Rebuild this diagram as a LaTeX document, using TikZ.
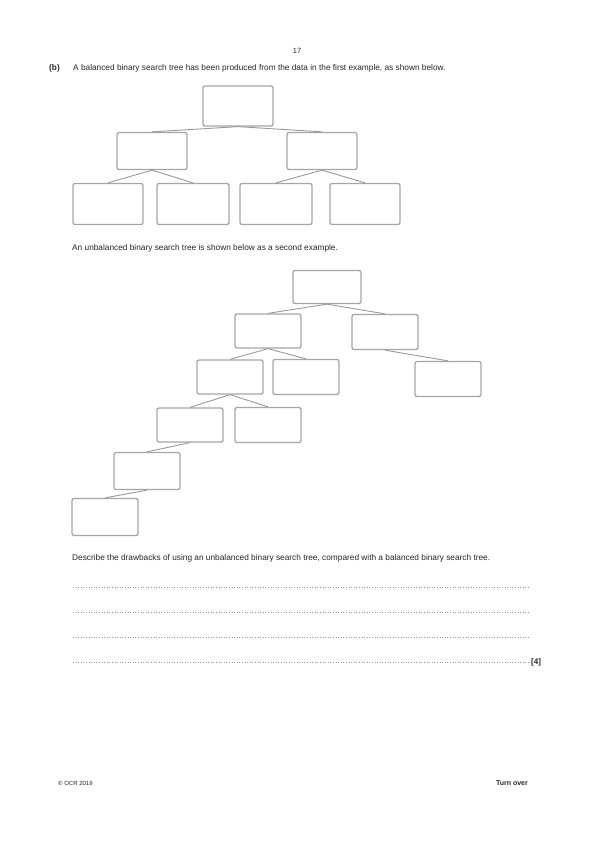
\documentclass[tikz,border=0pt]{standalone}
\usepackage{fontspec}
\setmainfont{Liberation Sans}
\begin{document}
\begin{tikzpicture}[x=1pt,y=-1pt,
  tbox/.style={draw=black!35, line width=1.3pt, rounded corners=2pt, fill=white, inner sep=0pt},
  big/.style={tbox, minimum width=70pt, minimum height=40pt},
  small/.style={tbox, minimum width=66pt, minimum height=34pt},
  link/.style={draw=black!40, line width=0.9pt},
  qtext/.style={anchor=west, inner sep=0pt, font=\fontsize{8.3}{9}\selectfont, text=black!85},
  ansline/.style={draw=black!40, line width=0.6pt, dotted}]
\useasboundingbox (0,0) rectangle (595,842);
% header
\node[qtext, anchor=center, font=\fontsize{7.5}{9}\selectfont] (pg) at (297,51) {17};
\node[qtext, font=\fontsize{8.3}{9}\selectfont\bfseries] (qb) at (49,68) {(b)};
\node[qtext] (t1) at (73,68) {A balanced binary search tree has been produced from the data in the first example, as shown below.};
% tree 1
\node[big] (r) at (238,106) {};
\node[big, minimum height=37pt] (l) at (152,151) {};
\node[big, minimum height=37pt] (rr) at (322,151) {};
\node[big, minimum height=41pt] (l1) at (108,204) {};
\node[big, minimum width=72pt, minimum height=41pt] (l2) at (193,204) {};
\node[big, minimum width=72pt, minimum height=41pt] (l3) at (276,204) {};
\node[big, minimum height=41pt] (l4) at (365,204) {};
\draw[link] (r.south) -- (l.north);
\draw[link] (r.south) -- (rr.north);
\draw[link] (l.south) -- (l1.north);
\draw[link] (l.south) -- (l2.north);
\draw[link] (rr.south) -- (l3.north);
\draw[link] (rr.south) -- (l4.north);
% text 2
\node[qtext] (t2) at (72,248) {An unbalanced binary search tree is shown below as a second example.};
% tree 2
\node[small, minimum width=68pt, minimum height=33pt] (a0) at (327,287) {};
\node[small] (a) at (268,331) {};
\node[small, minimum height=35pt] (b) at (385,332) {};
\node[small] (c) at (230,377) {};
\node[small, minimum height=35pt] (d) at (306,377) {};
\node[small, minimum height=35pt] (e) at (448,379) {};
\node[small] (f) at (190,425) {};
\node[small, minimum height=35pt] (g) at (268,425) {};
\node[small, minimum height=37pt] (h) at (147,471) {};
\node[small, minimum height=37pt] (i) at (105,517) {};
\draw[link] (a0.south) -- (a.north);
\draw[link] (a0.south) -- (b.north);
\draw[link] (a.south) -- (c.north);
\draw[link] (a.south) -- (d.north);
\draw[link] (b.south) -- (e.north);
\draw[link] (c.south) -- (f.north);
\draw[link] (c.south) -- (g.north);
\draw[link] (f.south) -- (h.north);
\draw[link] (h.south) -- (i.north);
% text 3
\node[qtext] (t3) at (72,558) {Describe the drawbacks of using an unbalanced binary search tree, compared with a balanced binary search tree.};
% answer lines
\coordinate (p1) at (73,587); \coordinate (q1) at (530,587);
\coordinate (p2) at (73,612); \coordinate (q2) at (530,612);
\coordinate (p3) at (73,637); \coordinate (q3) at (530,637);
\coordinate (p4) at (73,662); \coordinate (q4) at (530,662);
\draw[ansline] (p1) -- (q1);
\draw[ansline] (p2) -- (q2);
\draw[ansline] (p3) -- (q3);
\draw[ansline] (p4) -- (q4);
\node[qtext, font=\fontsize{8}{9}\selectfont\bfseries] (mk) at (531,662) {[4]};
% footer
\node[qtext, font=\fontsize{6}{7}\selectfont] (cp) at (58,783) {\textcopyright{} OCR 2019};
\node[qtext, font=\fontsize{7}{8}\selectfont\bfseries, anchor=east] (to) at (528,783) {Turn over};
\end{tikzpicture}
\end{document}
